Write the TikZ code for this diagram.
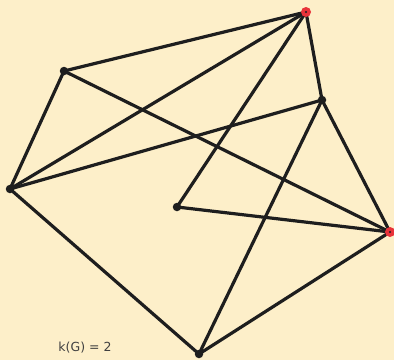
\documentclass[tikz,border=0pt]{standalone}
\usepackage{fontspec}
\setmainfont{DejaVu Sans}
\usetikzlibrary{backgrounds}
\definecolor{bg}{HTML}{FDEFC9}
\definecolor{edgec}{HTML}{1E1E1E}
\definecolor{redn}{HTML}{E8333A}
\begin{document}
\begin{tikzpicture}[x=1pt,y=-1pt,
  vtx/.style={circle,fill=edgec,inner sep=0pt,minimum size=8.5pt},
  rvtx/.style={circle,fill=redn,inner sep=0pt,minimum size=10pt,
     path picture={\fill[edgec] (path picture bounding box.center) circle (1.2pt);}},
  edge/.style={draw=edgec,line width=3.2pt}]
\useasboundingbox (0,0) rectangle (394,360);
\node[rvtx] (A) at (306,12) {};
\node[vtx] (B) at (64,71) {};
\node[vtx] (C) at (322,100) {};
\node[vtx] (D) at (10,189) {};
\node[vtx] (E) at (177,207) {};
\node[rvtx] (F) at (390,232) {};
\node[vtx] (G) at (199,354) {};
\begin{scope}[on background layer]
\fill[bg] (0,0) rectangle (394,360);
\foreach \u/\v in {A/B,A/C,A/D,A/E,B/F,B/D,C/D,C/F,C/G,D/G,E/F,G/F}
  \draw[edge] (\u.center) -- (\v.center);
\end{scope}
\node[text=black!75, font=\fontsize{12.5}{15}\selectfont] (lab) at (85,348) {k(G) = 2};
\end{tikzpicture}
\end{document}
